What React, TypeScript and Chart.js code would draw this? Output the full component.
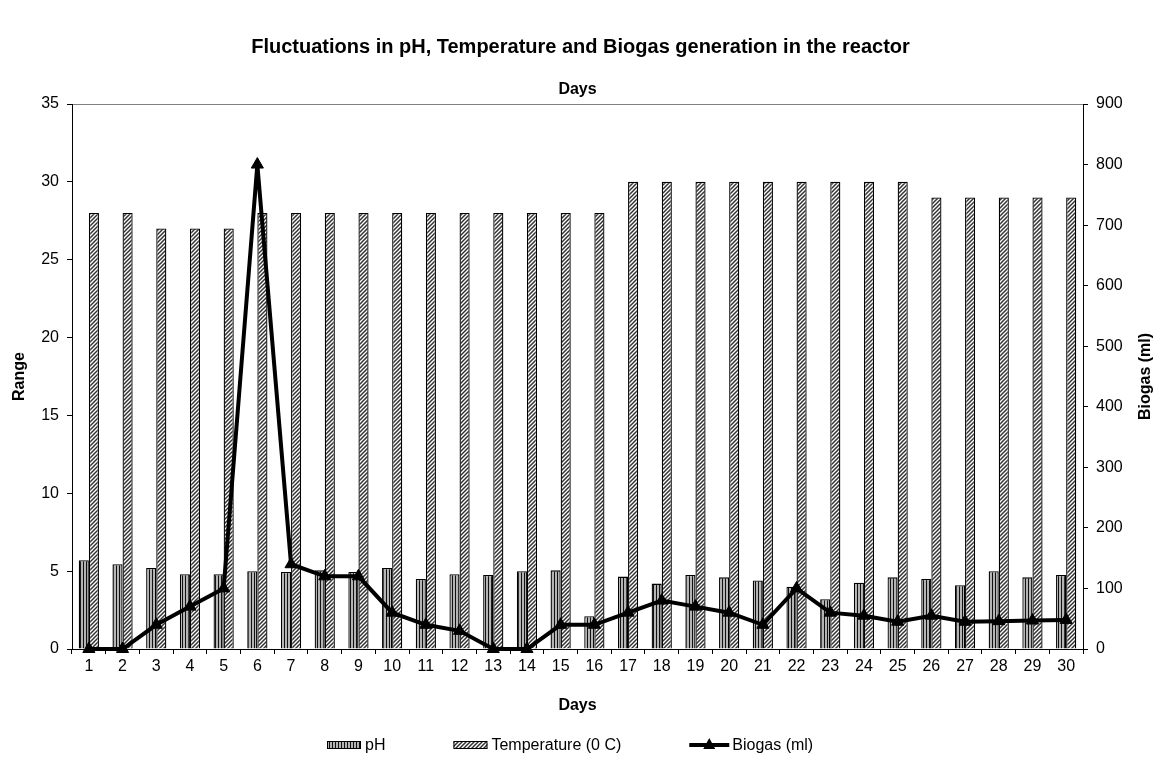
import React, { useEffect, useRef } from "react";
import { Chart, registerables } from "chart.js";

Chart.register(...registerables);

const days: string[] = Array.from({ length: 30 }, (_, i) => String(i + 1));
const phValues: number[] = [5.7, 5.45, 5.2, 4.8, 4.8, 5.0, 4.95, 5.05, 4.95, 5.2, 4.5, 4.8, 4.75, 5.0, 5.05, 2.1, 4.65, 4.2, 4.75, 4.6, 4.4, 4.0, 3.2, 4.25, 4.6, 4.5, 4.1, 5.0, 4.6, 4.75];
const temperatureValues: number[] = [28, 28, 27, 27, 27, 28, 28, 28, 28, 28, 28, 28, 28, 28, 28, 28, 30, 30, 30, 30, 30, 30, 30, 30, 30, 29, 29, 29, 29, 29];
const biogasValues: number[] = [0, 0, 40, 70, 100, 800, 140, 120, 120, 60, 40, 30, 0, 0, 40, 40, 60, 80, 70, 60, 40, 100, 60, 55, 45, 55, 45, 46, 47, 48];
const leftTicks = { min: 0, max: 35, step: 5 };
const rightTicks = { min: 0, max: 900, step: 100 };

const FONT = "'Liberation Sans', Arial, sans-serif";

function makePhPattern(): CanvasPattern | string {
  const c = document.createElement("canvas");
  c.width = 3;
  c.height = 3;
  const g = c.getContext("2d");
  if (!g) return "#999";
  g.fillStyle = "#b4b4b4";
  g.fillRect(0, 0, 3, 3);
  g.fillStyle = "#111111";
  g.fillRect(0, 0, 1, 3);
  const p = g.createPattern(c, "repeat");
  return p || "#999";
}

function makeTempPattern(): CanvasPattern | string {
  const c = document.createElement("canvas");
  c.width = 4;
  c.height = 4;
  const g = c.getContext("2d");
  if (!g) return "#ddd";
  g.fillStyle = "#ffffff";
  g.fillRect(0, 0, 4, 4);
  g.strokeStyle = "#333333";
  g.lineWidth = 1.5;
  g.beginPath();
  g.moveTo(-1, 5);
  g.lineTo(5, -1);
  g.moveTo(-1, 1);
  g.lineTo(1, -1);
  g.moveTo(3, 5);
  g.lineTo(5, 3);
  g.stroke();
  const p = g.createPattern(c, "repeat");
  return p || "#ddd";
}

const rightTitlePlugin = {
  id: "rightTitle",
  afterDraw(chart: any) {
    const ctx = chart.ctx;
    const area = chart.chartArea;
    ctx.save();
    ctx.translate(chart.width - 7, (area.top + area.bottom) / 2);
    ctx.rotate(-Math.PI / 2);
    ctx.font = `bold 16px ${FONT}`;
    ctx.fillStyle = "#000";
    ctx.textAlign = "center";
    ctx.textBaseline = "middle";
    ctx.fillText("Biogas (ml)", 0, 0);
    ctx.restore();
  },
};

const legendPlugin = {
  id: "customLegend",
  afterDraw(chart: any) {
    const ctx = chart.ctx;
    const ds = chart.data.datasets;
    const y = 737;
    let x = 319;
    const gap = 68;
    ctx.save();
    ctx.font = `16px ${FONT}`;
    ctx.textBaseline = "middle";
    ctx.textAlign = "left";
    ds.forEach((d: any) => {
      if (d.type === "line") {
        ctx.strokeStyle = d.borderColor;
        ctx.lineWidth = 4;
        ctx.beginPath();
        ctx.moveTo(x, y);
        ctx.lineTo(x + 40, y);
        ctx.stroke();
        ctx.fillStyle = d.pointBackgroundColor;
        ctx.beginPath();
        ctx.moveTo(x + 20, y - 7);
        ctx.lineTo(x + 26, y + 4);
        ctx.lineTo(x + 14, y + 4);
        ctx.closePath();
        ctx.fill();
        x += 43;
      } else {
        ctx.fillStyle = d.backgroundColor;
        ctx.fillRect(x, y - 4, 34, 8);
        ctx.strokeStyle = "#000";
        ctx.lineWidth = 1;
        ctx.strokeRect(x + 0.5, y - 3.5, 33, 7);
        x += 38;
      }
      ctx.fillStyle = "#000";
      ctx.fillText(d.label, x, y + 1);
      x += ctx.measureText(d.label).width + gap;
    });
    ctx.restore();
  },
};

export default function App() {
  const ref = useRef<HTMLCanvasElement | null>(null);
  useEffect(() => {
    if (!ref.current) return;
    Chart.defaults.font.family = FONT;
    Chart.defaults.color = "#000";
    const chart = new Chart(ref.current, {
      type: "bar",
      data: {
        labels: days,
        datasets: [
          {
            type: "bar",
            label: "pH",
            data: phValues,
            backgroundColor: makePhPattern() as any,
            borderColor: "#000",
            borderWidth: 1.3,
            xAxisID: "x",
            yAxisID: "y",
            order: 2,
            barPercentage: 1,
            categoryPercentage: 0.6,
          },
          {
            type: "bar",
            label: "Temperature (0 C)",
            data: temperatureValues,
            backgroundColor: makeTempPattern() as any,
            borderColor: "#000",
            borderWidth: 1.3,
            xAxisID: "x",
            yAxisID: "y",
            order: 2,
            barPercentage: 1,
            categoryPercentage: 0.6,
          },
          {
            type: "line",
            label: "Biogas (ml)",
            data: biogasValues,
            borderColor: "#000",
            borderWidth: 4,
            pointStyle: "triangle",
            pointRadius: 7,
            pointBackgroundColor: "#000",
            pointBorderColor: "#000",
            pointBorderWidth: 1,
            tension: 0,
            xAxisID: "x",
            yAxisID: "y1",
            order: 0,
            clip: false as any,
          } as any,
        ],
      },
      options: {
        animation: false,
        responsive: false,
        maintainAspectRatio: false,
        layout: { padding: { left: 0, right: 0, top: 0, bottom: 38 } },
        plugins: {
          legend: { display: false },
          tooltip: { enabled: false },
          title: {
            display: true,
            text: "Fluctuations in pH, Temperature and Biogas generation in the reactor",
            font: { size: 20, weight: "bold" },
            color: "#000",
            padding: { top: 27, bottom: 0 },
          },
        },
        scales: {
          x: {
            type: "category",
            position: "bottom",
            offset: true,
            grid: { display: true, drawOnChartArea: false, drawTicks: true, tickLength: 5, color: "#000", offset: true },
            border: { display: true, color: "#000", width: 1 },
            ticks: { font: { size: 16 }, color: "#000", padding: 3, maxRotation: 0, autoSkip: false },
            title: { display: true, text: "Days", font: { size: 16, weight: "bold" }, color: "#000", padding: { top: 0, bottom: 1.4 } },
            afterFit: (s: any) => { s.height = 68; },
          },
          x2: {
            type: "category",
            position: "top",
            labels: days,
            grid: { display: false },
            border: { display: true, color: "#808080", width: 1 },
            ticks: { display: false },
            title: { display: true, text: "Days", font: { size: 16, weight: "bold" }, color: "#000", padding: { top: 21, bottom: 0 } },
            afterFit: (s: any) => { s.height = 45; },
          },
          y: {
            type: "linear",
            position: "left",
            min: leftTicks.min,
            max: leftTicks.max,
            ticks: { stepSize: leftTicks.step, font: { size: 16 }, color: "#000", padding: 8 },
            grid: { display: true, drawOnChartArea: false, tickLength: 5, color: "#000" },
            border: { display: true, color: "#000", width: 1 },
            title: { display: true, text: "Range", font: { size: 16, weight: "bold" }, color: "#000", padding: { top: 2, bottom: 0 } },
            afterFit: (s: any) => { s.width = 64; },
          },
          y1: {
            type: "linear",
            position: "right",
            min: rightTicks.min,
            max: rightTicks.max,
            ticks: { stepSize: rightTicks.step, font: { size: 16 }, color: "#000", padding: 8 },
            grid: { display: true, drawOnChartArea: false, tickLength: 5, color: "#000" },
            border: { display: true, color: "#000", width: 1 },
            afterFit: (s: any) => { s.width = 70; },
          },
        },
      },
      plugins: [rightTitlePlugin, legendPlugin],
    } as any);
    return () => chart.destroy();
  }, []);
  return (
    <div style={{ width: 1145, height: 747 }}>
      <canvas ref={ref} width={1145} height={747} style={{ width: 1145, height: 747 }} />
    </div>
  );
}
